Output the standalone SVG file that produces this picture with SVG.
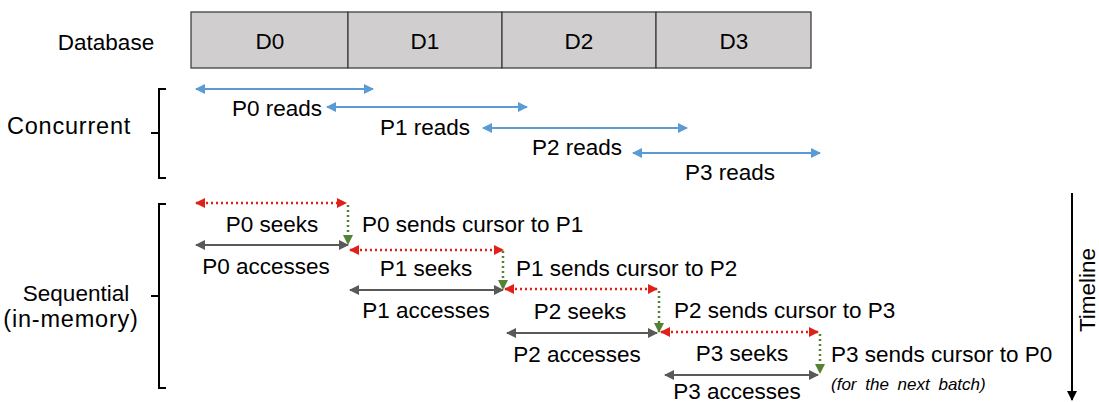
<svg xmlns="http://www.w3.org/2000/svg" width="1099" height="402" viewBox="0 0 1099 402">
  <style>
    text { font-family: "Liberation Sans", Arial, sans-serif; font-size: 22.5px; fill: #000; }
    .mid { text-anchor: middle; }
    .side { font-size: 23.5px; letter-spacing: 0.8px; }
    .cell { fill: #d0cece; stroke: #404040; stroke-width: 1.3; }
    .brace { fill: none; stroke: #000; stroke-width: 2; }
    .read { stroke: #5b9bd5; stroke-width: 2; fill: none; marker-start: url(#hBlue); marker-end: url(#hBlue); }
    .seek { stroke: #e0201b; stroke-width: 2.5; stroke-dasharray: 2 3; fill: none; marker-start: url(#hRed); marker-end: url(#hRed); }
    .access { stroke: #595959; stroke-width: 2; fill: none; marker-start: url(#hGray); marker-end: url(#hGray); }
    .send { stroke: #548235; stroke-width: 2.5; stroke-dasharray: 2 3; fill: none; marker-end: url(#hGreen); }
    .note { font-size: 17px; font-style: italic; word-spacing: 4px; }
  </style>
  <defs>
    <marker id="hBlue" viewBox="0 0 10 10" refX="9" refY="5" markerWidth="5" markerHeight="5" orient="auto-start-reverse" markerUnits="strokeWidth"><path d="M0,0 L10,5 L0,10 z" fill="#5b9bd5"/></marker>
    <marker id="hRed" viewBox="0 0 10 10" refX="9" refY="5" markerWidth="4" markerHeight="4" orient="auto-start-reverse" markerUnits="strokeWidth"><path d="M0,0 L10,5 L0,10 z" fill="#e0201b"/></marker>
    <marker id="hGray" viewBox="0 0 10 10" refX="9" refY="5" markerWidth="5" markerHeight="5" orient="auto-start-reverse" markerUnits="strokeWidth"><path d="M0,0 L10,5 L0,10 z" fill="#595959"/></marker>
    <marker id="hGreen" viewBox="0 0 10 10" refX="9" refY="5" markerWidth="4" markerHeight="4" orient="auto" markerUnits="strokeWidth"><path d="M0,0 L10,5 L0,10 z" fill="#548235"/></marker>
    <marker id="hBlack" viewBox="0 0 10 10" refX="9" refY="5" markerWidth="5" markerHeight="5" orient="auto" markerUnits="strokeWidth"><path d="M0,0 L10,5 L0,10 z" fill="#000"/></marker>
  </defs>

  <!-- database partitioned into four chunks -->
  <g id="database">
    <text x="106" y="50" class="mid">Database</text>
    <rect class="cell" x="191" y="12" width="157" height="56"/>
    <rect class="cell" x="348" y="12" width="154" height="56"/>
    <rect class="cell" x="502" y="12" width="154" height="56"/>
    <rect class="cell" x="656" y="12" width="155" height="56"/>
    <text x="270" y="49" class="mid">D0</text>
    <text x="425" y="49" class="mid">D1</text>
    <text x="579" y="49" class="mid">D2</text>
    <text x="734" y="49" class="mid">D3</text>
  </g>

  <!-- concurrent mode -->
  <g id="concurrent">
    <path class="brace" d="M166,89 H159 V178 H166 M159,133 H151"/>
    <text x="69" y="134" class="mid side">Concurrent</text>
    <text x="277" y="116" class="mid">P0 reads</text>
    <text x="425" y="135" class="mid">P1 reads</text>
    <text x="577" y="155" class="mid">P2 reads</text>
    <text x="730" y="180" class="mid">P3 reads</text>
  </g>

  <!-- sequential (in-memory) mode -->
  <g id="sequential">
    <path class="brace" d="M166,204 H159 V388 H166 M159,296 H151"/>
    <text x="76" y="301" class="mid">Sequential</text>
    <text x="71" y="327" class="mid side">(in-memory)</text>
  </g>

  <g id="p0">
    <text x="272" y="232" class="mid">P0 seeks</text>
    <text x="266" y="274" class="mid">P0 accesses</text>
    <text x="362" y="232">P0 sends cursor to P1</text>
  </g>
  <g id="p1">
    <text x="426" y="276" class="mid">P1 seeks</text>
    <text x="426" y="318" class="mid">P1 accesses</text>
    <text x="516" y="276">P1 sends cursor to P2</text>
  </g>
  <g id="p2">
    <text x="580" y="319" class="mid">P2 seeks</text>
    <text x="577" y="362" class="mid">P2 accesses</text>
    <text x="674" y="318">P2 sends cursor to P3</text>
  </g>
  <g id="p3">
    <text x="742" y="361" class="mid">P3 seeks</text>
    <text x="737" y="399" class="mid">P3 accesses</text>
    <text x="831" y="362">P3 sends cursor to P0</text>
    <text x="831" y="390" class="note">(for the next batch)</text>
  </g>

  <g id="timeline">
    <line x1="1072" y1="193" x2="1072" y2="400" stroke="#000" stroke-width="2" marker-end="url(#hBlack)"/>
    <text transform="translate(1095,290) rotate(-90)" class="mid" font-size="19">Timeline</text>
  </g>

  <g id="connectors">
    <!-- concurrent reads -->
    <line class="read" x1="196" y1="89" x2="373" y2="89"/>
    <line class="read" x1="327" y1="107" x2="527" y2="107"/>
    <line class="read" x1="483" y1="128" x2="687" y2="128"/>
    <line class="read" x1="633" y1="153" x2="820" y2="153"/>
    <!-- seeks -->
    <line class="seek" x1="196" y1="203" x2="346" y2="203"/>
    <line class="seek" x1="350" y1="250" x2="503" y2="250"/>
    <line class="seek" x1="505" y1="289" x2="657" y2="289"/>
    <line class="seek" x1="661" y1="332" x2="818" y2="332"/>
    <!-- accesses -->
    <line class="access" x1="196" y1="245" x2="348" y2="245"/>
    <line class="access" x1="350" y1="290" x2="503" y2="290"/>
    <line class="access" x1="507" y1="333" x2="657" y2="333"/>
    <line class="access" x1="665" y1="375" x2="818" y2="375"/>
    <!-- cursor hand-offs -->
    <line class="send" x1="348" y1="205" x2="348" y2="244"/>
    <line class="send" x1="503" y1="251" x2="503" y2="289"/>
    <line class="send" x1="659" y1="291" x2="659" y2="332"/>
    <line class="send" x1="820" y1="334" x2="820" y2="373"/>
  </g>
</svg>
